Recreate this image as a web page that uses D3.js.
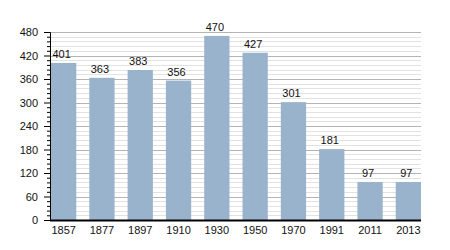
<!DOCTYPE html>
<html>
<head>
<meta charset="utf-8">
<script src="https://cdn.jsdelivr.net/npm/d3@7"></script>
<style>
  body { margin: 0; background: #fff; }
  text { font-family: "Liberation Sans", Arial, sans-serif; }
</style>
</head>
<body>
<div id="chart"></div>
<script>
const years = ["1857", "1877", "1897", "1910", "1930", "1950", "1970", "1991", "2011", "2013"];
const population = [401, 363, 383, 356, 470, 427, 301, 181, 97, 97];
const majorTicks = [0, 60, 120, 180, 240, 300, 360, 420, 480];

const width = 450, height = 250;
const plotLeft = 50, plotRight = 421, plotTop = 32, plotBottom = 220;

const svg = d3.select("#chart").append("svg")
  .attr("width", width)
  .attr("height", height);

const x = d3.scaleBand()
  .domain(years)
  .range([plotLeft + 1, plotRight])
  .paddingInner(0.34)
  .paddingOuter(0);

const y = d3.scaleLinear()
  .domain([0, 480])
  .range([plotBottom, plotTop]);

// minor grid every 12
const minor = d3.range(0, 481, 12).filter(v => v % 60 !== 0);
svg.append("g")
  .selectAll("line")
  .data(minor)
  .join("line")
  .attr("x1", plotLeft).attr("x2", plotRight)
  .attr("y1", d => Math.round(y(d)) + 0.5)
  .attr("y2", d => Math.round(y(d)) + 0.5)
  .attr("stroke", "#e2e2e2");

// major grid
svg.append("g")
  .selectAll("line")
  .data(majorTicks.filter(v => v > 0))
  .join("line")
  .attr("x1", plotLeft).attr("x2", plotRight)
  .attr("y1", d => Math.round(y(d)) + 0.5)
  .attr("y2", d => Math.round(y(d)) + 0.5)
  .attr("stroke", "#b4b4b4");

// bars
svg.append("g")
  .selectAll("rect")
  .data(population)
  .join("rect")
  .attr("x", (d, i) => x(years[i]))
  .attr("y", d => y(d))
  .attr("width", x.bandwidth())
  .attr("height", d => plotBottom - y(d))
  .attr("fill", "#9ab3cd");

// value labels
svg.append("g")
  .selectAll("text")
  .data(population)
  .join("text")
  .attr("x", (d, i) => x(years[i]) + x.bandwidth() / 2 - 2)
  .attr("y", d => y(d) - 5)
  .attr("text-anchor", "middle")
  .attr("font-size", 11)
  .attr("fill", "#111")
  .text(d => d);

// y axis with minor ticks
const yAxis = svg.append("g").attr("transform", `translate(${plotLeft},0)`);
yAxis.call(d3.axisLeft(y).tickValues(minor).tickSize(3).tickFormat(""))
  .call(g => g.select(".domain").remove());
yAxis.append("g")
  .call(d3.axisLeft(y).tickValues(majorTicks).tickSize(6).tickPadding(6))
  .call(g => g.selectAll("text").attr("font-size", 11).attr("fill", "#111"));
yAxis.selectAll("path.domain").attr("stroke", "#000");

// x axis
const xAxis = svg.append("g").attr("transform", `translate(0,${plotBottom})`)
  .call(d3.axisBottom(x).tickSize(0).tickPadding(6));
xAxis.select(".domain")
  .attr("d", `M${plotLeft},0.5H${plotRight}`)
  .attr("stroke", "#000")
  .attr("stroke-width", 2);
xAxis.selectAll("text").attr("font-size", 11).attr("fill", "#111");
</script>
</body>
</html>
